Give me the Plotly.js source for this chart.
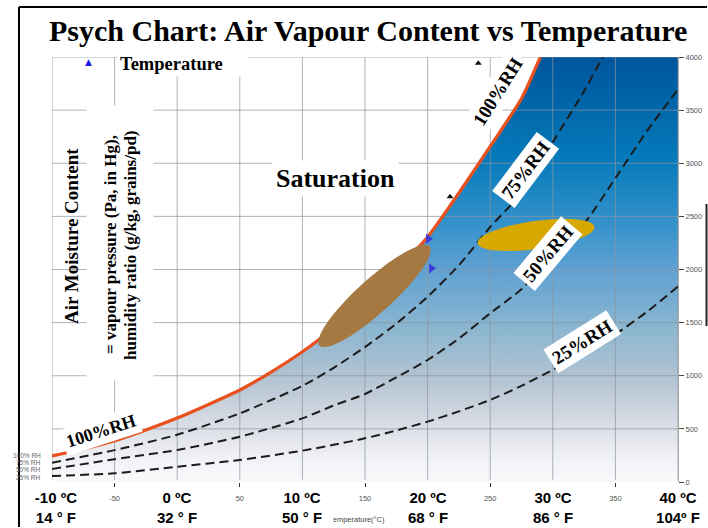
<!DOCTYPE html>
<html><head><meta charset="utf-8">
<script src="https://cdn.plot.ly/plotly-3.0.1.min.js"></script>
<style>html,body{margin:0;padding:0;background:#fff}#chart{width:708px;height:528px}</style>
</head><body><div id="chart"></div>
<script>
// ---- data (temperature in °C, vapour pressure in Pa) ----
const satT  = [-10, -7.5, -5, -2.5, 0, 2.5, 5, 7.5, 10, 12.5, 15, 17.5, 20, 22.5, 25, 27.5, 29];
const satV  = [245, 310, 388, 490, 602, 730, 866, 1035, 1226, 1450, 1700, 1990, 2305, 2720, 3158, 3610, 4000];
const rh75T = [-10, -5, 0, 5, 10, 12.5, 15, 17.5, 20, 22.5, 25, 27.5, 30, 32.5, 34];
const rh75V = [182, 300, 445, 646, 905, 1075, 1270, 1490, 1744, 2040, 2400, 2720, 3200, 3680, 4000];
const rh50T = [-10, -5, 0, 5, 10, 12.5, 15, 17.5, 20, 22.5, 25, 27.5, 30, 32.5, 35, 37.5, 40];
const rh50V = [122, 215, 301, 426, 599, 720, 828, 985, 1148, 1350, 1588, 1815, 2130, 2430, 2860, 3300, 3696];
const rh25T = [-10, -5, 0, 5, 10, 12.5, 15, 17.5, 20, 22.5, 25, 27.5, 30, 32.5, 35, 37.5, 40];
const rh25V = [56, 82, 144, 207, 295, 350, 411, 485, 568, 665, 772, 905, 1055, 1210, 1390, 1600, 1840];
const blueMarkT  = [20.06, 20.3];
const blueMarkV  = [2290, 2011];
const blackMarkT = [24.05, 21.79];
const blackMarkV = [3941, 2685];
const xTickVals  = [-5, 5, 15, 25, 35];
const xTickText  = ['-50', '50', '150', '250', '350'];
const yTickVals  = [0, 500, 1000, 1500, 2000, 2500, 3000, 3500, 4000];
const xGridVals  = [-10, -5, 0, 5, 10, 15, 20, 25, 30, 35, 40];
const bigLabelT  = [-10, 0, 10, 20, 30, 40];
const bigLabelC  = ['-10 ºC', '0 ºC', '10 ºC', '20 ºC', '30 ºC', '40 ºC'];
const bigLabelF  = ['14 ° F', '32 ° F', '50 ° F', '68 ° F', '86 ° F', '104º F'];
const smallLegend = ['100% RH', '75% RH', '50% RH', '25% RH'];

// ---- layout geometry ----
const W = 708, H = 528, ML = 52, MR = 30, MT = 57, MB = 46;
const PW = W - ML - MR, PH = H - MT - MB;
const X0 = -10, X1 = 40, Y0 = 0, Y1 = 4000;
const pxPerX = PW / (X1 - X0), pxPerY = PH / (Y1 - Y0);
const px2x = p => (p - ML) / PW;          // pixel -> paper x
const py2y = p => (H - MB - p) / PH;      // pixel -> paper y

const serif = 'Liberation Serif, Times New Roman, serif';
const sans = 'Liberation Sans, Arial, sans-serif';

// gridline segments from the tick lists
const gx = [], gy = [];
xGridVals.forEach(t => { gx.push(t, t, null); gy.push(20, Y1, null); });
yTickVals.filter(v => v > 0).forEach(v => { gx.push(X0, X1, null); gy.push(v, v, null); });

const dashLine = {color: '#1c1c1c', width: 2, dash: '9px,5px', shape: 'spline', smoothing: 0.6};

const traces = [
  { // gradient-filled region under the saturation curve
    x: satT.concat([X1, X1, X0]), y: satV.concat([Y1, Y0, Y0]),
    mode: 'lines', fill: 'toself', line: {width: 0, color: 'rgba(0,0,0,0)'},
    fillgradient: {type: 'vertical', start: Y0, stop: Y1, colorscale: [
      [0, 'rgb(250,250,252)'], [0.05, 'rgb(242,243,247)'], [0.12, 'rgb(222,224,232)'],
      [0.24, 'rgb(180,196,210)'], [0.36, 'rgb(140,182,208)'], [0.5, 'rgb(95,161,210)'],
      [0.62, 'rgb(48,144,202)'], [0.76, 'rgb(6,122,186)'], [0.9, 'rgb(0,100,168)'], [1, 'rgb(0,85,155)']]},
    hoverinfo: 'skip'
  },
  {x: gx, y: gy, mode: 'lines', line: {color: 'rgba(140,150,160,0.72)', width: 1}, hoverinfo: 'skip'},
  {x: rh25T, y: rh25V, mode: 'lines', name: '25% RH', line: dashLine},
  {x: rh50T, y: rh50V, mode: 'lines', name: '50% RH', line: dashLine},
  {x: rh75T, y: rh75V, mode: 'lines', name: '75% RH', line: dashLine},
  {x: satT, y: satV, mode: 'lines', name: '100% RH', line: {color: '#e8501e', width: 3.2, shape: 'spline', smoothing: 0.6}},
  {x: blueMarkT, y: blueMarkV, mode: 'markers', name: 'Temperature', marker: {symbol: 'triangle-right', size: 9, color: '#3c3cdc'}},
  {x: blackMarkT, y: blackMarkV, mode: 'markers', marker: {symbol: 'triangle-up', size: 6, color: '#111'}}
];

// rotated ellipse path (centre in data units, semi-axes in px, angle in degrees)
function ellipsePath(cx, cy, a, b, deg) {
  const th = deg * Math.PI / 180; let d = '';
  for (let i = 0; i <= 72; i++) {
    const t = i / 72 * 2 * Math.PI;
    const dx = a * Math.cos(t) * Math.cos(th) - b * Math.sin(t) * Math.sin(th);
    const dy = a * Math.cos(t) * Math.sin(th) + b * Math.sin(t) * Math.cos(th);
    d += (i ? ' L ' : 'M ') + (cx + dx / pxPerX).toFixed(4) + ',' + (cy + dy / pxPerY).toFixed(2);
  }
  return d + ' Z';
}

const shapes = [];
xTickVals.forEach(t => shapes.push({type: 'line', xref: 'x', yref: 'y', x0: t - 2.35, x1: t + 2.35, y0: -8, y1: -8,
  line: {color: '#a8a8a8', width: 1}, layer: 'above'}));
shapes.push({type: 'path', xref: 'x', yref: 'y', path: ellipsePath(15.76, 1751, 74, 17, 42),
  fillcolor: '#a67842', line: {width: 0}, layer: 'above'});
shapes.push({type: 'path', xref: 'x', yref: 'y', path: ellipsePath(28.66, 2325, 59, 14, 8),
  fillcolor: '#d6a800', line: {width: 0}, layer: 'above'});
shapes.push({type: 'line', xref: 'paper', yref: 'paper', x0: px2x(706.5), x1: px2x(706.5), y0: py2y(204), y1: py2y(326),
  line: {color: '#222', width: 2}, layer: 'above'});
// outer slide frame (left and top edges)
shapes.push({type: 'line', xref: 'paper', yref: 'paper', x0: px2x(19), x1: px2x(19), y0: py2y(7), y1: py2y(527),
  line: {color: '#000', width: 2}, layer: 'above'});
shapes.push({type: 'line', xref: 'paper', yref: 'paper', x0: px2x(19), x1: px2x(707), y0: py2y(7), y1: py2y(7),
  line: {color: '#000', width: 2}, layer: 'above'});

const ann = [];
const P = (px, py, o) => Object.assign({xref: 'paper', yref: 'paper', x: px2x(px), y: py2y(py),
  xanchor: 'center', yanchor: 'middle', showarrow: false}, o);
// title
ann.push(P(368, 30, {text: '<b>Psych Chart: Air Vapour Content vs Temperature</b>', font: {family: serif, size: 30, color: '#000'}}));
// legend
ann.push(P(117, 64, {xanchor: 'left', text: '<b>Temperature</b>', width: 125, align: 'left', bgcolor: '#fff', borderpad: 2,
  font: {family: serif, size: 18.5, color: '#000'}}));
ann.push(P(88, 62, {text: '▲', font: {family: 'DejaVu Sans', size: 9, color: '#1a1ae6'}}));
// y-title box + texts
ann.push(P(120, 243, {text: ' ', width: 64, height: 272, bgcolor: '#fff', borderpad: 1}));
ann.push(P(71, 236, {text: '<b>Air Moisture Content</b>', textangle: -90, font: {family: serif, size: 19, color: '#000'}}));
ann.push(P(110, 245, {text: '<b>= vapour pressure (Pa, in Hg),</b>', textangle: -90, font: {family: serif, size: 17, color: '#000'}}));
ann.push(P(130, 245, {text: '<b>humidity ratio (g/kg, grains/pd)</b>', textangle: -90, font: {family: serif, size: 17, color: '#000'}}));
// Saturation
ann.push(P(335, 178, {text: '<b>Saturation</b>', bgcolor: '#fff', borderpad: 3, font: {family: serif, size: 26, color: '#000'}}));
// curve labels
const curveLabels = [
  {text: '100%RH', T: -6.09, V: 480,  ang: -18, size: 18},
  {text: '100%RH', T: 25.62, V: 3671, ang: -58, size: 19},
  {text: '75%RH',  T: 27.78, V: 2936, ang: -53, size: 19},
  {text: '50%RH',  T: 29.6,  V: 2155, ang: -50, size: 19},
  {text: '25%RH',  T: 32.41, V: 1318, ang: -32, size: 19}
];
curveLabels.forEach(c => ann.push({xref: 'x', yref: 'y', x: c.T, y: c.V, xanchor: 'center', yanchor: 'middle',
  text: '<b>' + c.text + '</b>', textangle: c.ang,
  showarrow: false, bgcolor: '#fff', borderpad: 3, font: {family: serif, size: c.size, color: '#000'}}));
// small legend at bottom left
smallLegend.forEach((s, i) => ann.push(P(43, 455 + i * 7.4, {xanchor: 'right', text: s,
  font: {family: sans, size: 6.5, color: '#666'}})));
// underlying axis title fragment
ann.push(P(357, 519, {text: 'Temperature(°C)', font: {family: sans, size: 7.5, color: '#444'}}));
// big temperature labels
bigLabelT.forEach((t, i) => ann.push({xref: 'x', yref: 'paper', x: t, y: py2y(507), xanchor: 'center', yanchor: 'middle',
  xshift: i === 0 ? 4 : 0, width: 60, text: '<b>' + bigLabelC[i] + '<br>' + bigLabelF[i] + '</b>', showarrow: false,
  bgcolor: '#fff', borderpad: 1, font: {family: sans, size: 15, color: '#000'}}));

const layout = {
  width: W, height: H, margin: {l: ML, r: MR, t: MT, b: MB, pad: 0},
  paper_bgcolor: '#fff', plot_bgcolor: '#fff', showlegend: false,
  xaxis: {range: [X0, X1], showgrid: false, zeroline: false, showline: false, tickvals: xTickVals, ticktext: xTickText,
    ticks: 'outside', ticklen: 4, tickcolor: '#333', ticklabelstandoff: 5, tickfont: {family: sans, size: 7.5, color: '#555'}},
  yaxis: {range: [Y0, Y1], side: 'right', showgrid: false, zeroline: false, showline: true, linecolor: '#aaa', linewidth: 1,
    tickvals: yTickVals, ticks: 'outside', ticklen: 5, tickcolor: '#444', tickfont: {family: sans, size: 7.5, color: '#555'}},
  shapes: shapes, annotations: ann
};
Plotly.newPlot('chart', traces, layout, {displayModeBar: false, staticPlot: true});
</script></body></html>
